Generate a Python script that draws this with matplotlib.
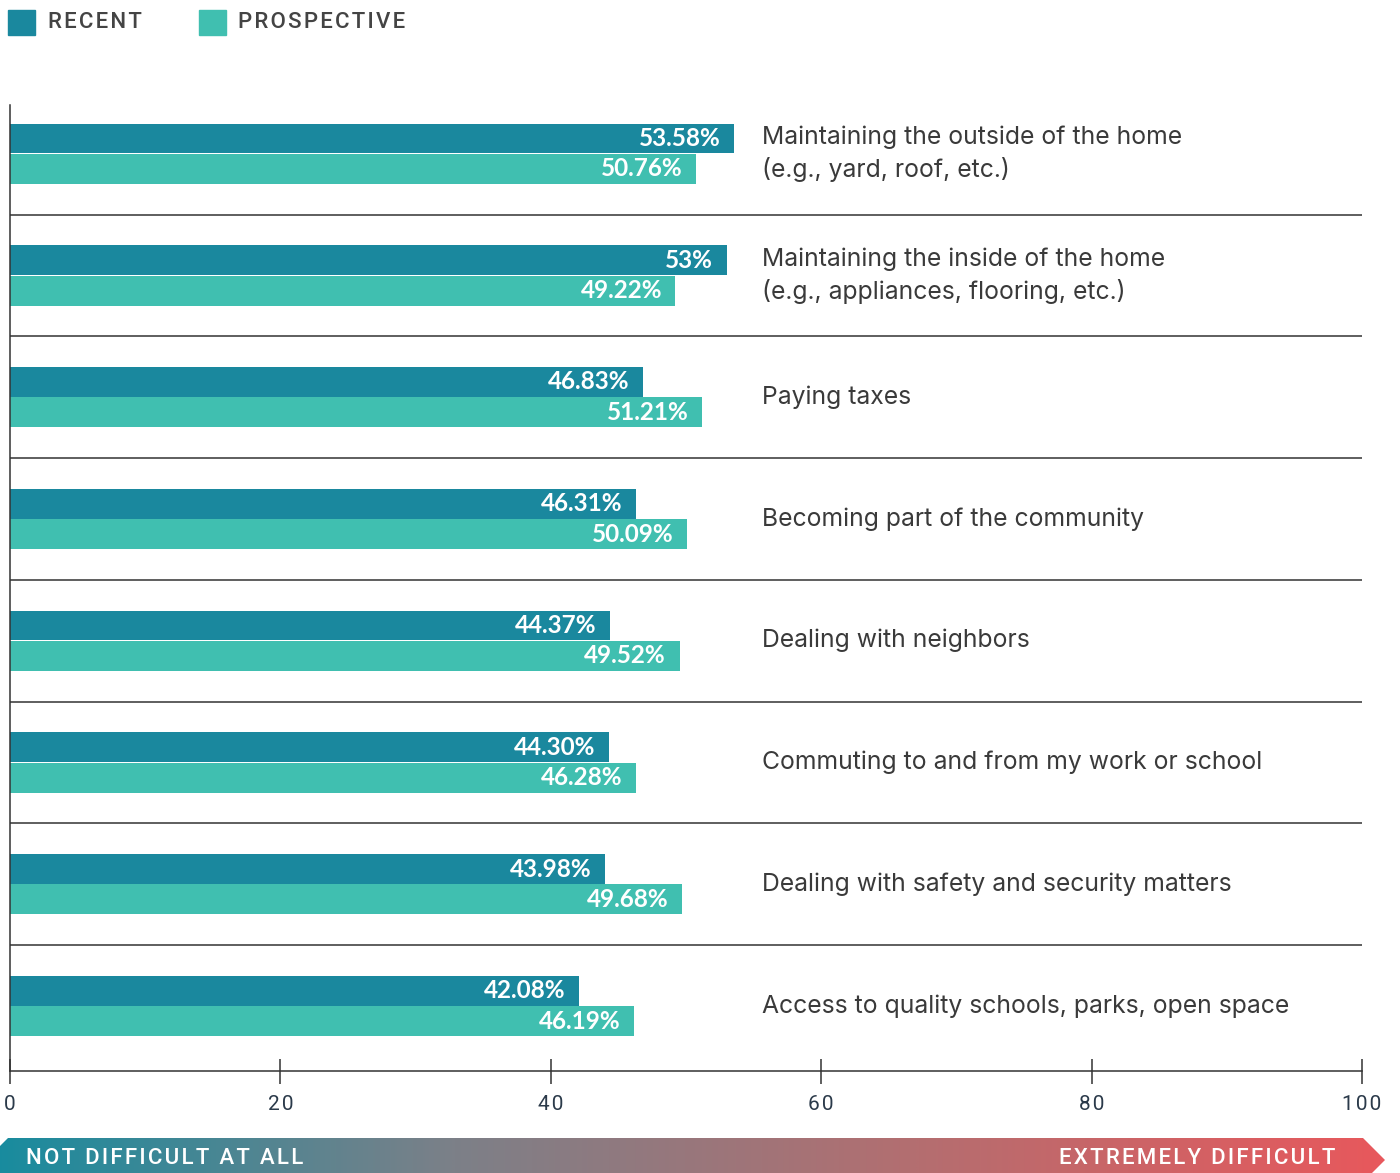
import numpy as np
import matplotlib
matplotlib.use("Agg")
import matplotlib.pyplot as plt
from matplotlib.patches import Polygon, Rectangle
from matplotlib.colors import LinearSegmentedColormap

# data
categories = [
    "Maintaining the outside of the home\n(e.g., yard, roof, etc.)",
    "Maintaining the inside of the home\n(e.g., appliances, flooring, etc.)",
    "Paying taxes",
    "Becoming part of the community",
    "Dealing with neighbors",
    "Commuting to and from my work or school",
    "Dealing with safety and security matters",
    "Access to quality schools, parks, open space",
]
recent = [53.58, 53, 46.83, 46.31, 44.37, 44.30, 43.98, 42.08]
prospective = [50.76, 49.22, 51.21, 50.09, 49.52, 46.28, 49.68, 46.19]
recent_labels = ["53.58%", "53%", "46.83%", "46.31%", "44.37%", "44.30%", "43.98%", "42.08%"]
prospective_labels = ["50.76%", "49.22%", "51.21%", "50.09%", "49.52%", "46.28%", "49.68%", "46.19%"]
ticks = [0, 20, 40, 60, 80, 100]

c_recent = "#1a889e"
c_prosp = "#40bfb0"
dark = "#333333"
HS = "\u200a"  # hair space, used as letter spacing


def spaced(s):
    return HS.join(s)


W, H = 1400, 1173
fig = plt.figure(figsize=(W / 100, H / 100), dpi=100)

# main axes
ax = fig.add_axes([10 / W, (H - 1071) / H, (1362 - 10) / W, (1071 - 105) / H])
y = np.arange(len(categories))
bh = 0.246
ax.barh(y - 0.125, recent, height=bh, color=c_recent, zorder=2)
ax.barh(y + 0.125, prospective, height=bh, color=c_prosp, zorder=2)

for i in range(len(categories)):
    ax.text(recent[i] - 1.0, i - 0.125, recent_labels[i], ha="right", va="center",
            color="white", fontsize=17.5, fontweight="bold", family="Lato", zorder=3)
    ax.text(prospective[i] - 1.0, i + 0.125, prospective_labels[i], ha="right", va="center",
            color="white", fontsize=17.5, fontweight="bold", family="Lato", zorder=3)
    ax.text(55.6, i, categories[i], ha="left", va="center", color="#3a3a3a",
            fontsize=17.8, family="Inter", linespacing=1.4)

for i in range(len(categories) - 1):
    ax.plot([0, 100], [i + 0.5, i + 0.5], color=dark, lw=1.1, zorder=1)

ax.set_xlim(0, 100)
ax.set_ylim(len(categories) - 1 + 0.534, -0.40)
for s in ["top", "right"]:
    ax.spines[s].set_visible(False)
ax.spines["left"].set_color(dark)
ax.spines["bottom"].set_color(dark)
ax.spines["left"].set_linewidth(1.1)
ax.spines["bottom"].set_linewidth(1.1)
ax.set_yticks([])
ax.set_xticks(ticks)
ax.set_xticklabels([spaced(str(t)) for t in ticks], fontsize=15, color="#2b3a4a", family="Roboto")
ax.tick_params(axis="x", direction="inout", length=18, width=1.1, color=dark, pad=8)

# overlay for legend and gradient band (pixel coords)
ov = fig.add_axes([0, 0, 1, 1])
ov.set_xlim(0, W)
ov.set_ylim(H, 0)
ov.axis("off")

ov.add_patch(Rectangle((8, 10), 27, 25, color=c_recent))
ov.add_patch(Rectangle((199, 10), 27, 25, color=c_prosp))
ov.text(48, 23, spaced("RECENT"), ha="left", va="center", fontsize=16,
        color="#444444", family="Roboto", fontweight="medium")
ov.text(238, 22, spaced("PROSPECTIVE"), ha="left", va="center", fontsize=16,
        color="#444444", family="Roboto", fontweight="medium")

cmap = LinearSegmentedColormap.from_list("diff", ["#168c9f", "#7c8088", "#b46e70", "#e8585c"])
grad = np.linspace(0, 1, 512).reshape(1, -1)
band = Polygon([(-14, 1160), (8, 1138), (1363, 1138), (1385, 1160), (1363, 1182), (8, 1182)],
               closed=True, facecolor="none", edgecolor="none")
ov.add_patch(band)
im = ov.imshow(grad, cmap=cmap, aspect="auto", extent=[-14, 1385, 1182, 1138])
im.set_clip_path(band)
ov.set_xlim(0, W)
ov.set_ylim(H, 0)
ov.text(26, 1159, spaced("NOT DIFFICULT AT ALL"), ha="left", va="center", fontsize=16,
        color="white", family="Roboto", fontweight="medium")
ov.text(1335, 1159, spaced("EXTREMELY DIFFICULT"), ha="right", va="center", fontsize=16,
        color="white", family="Roboto", fontweight="medium")

fig.savefig("out.png", dpi=100)
